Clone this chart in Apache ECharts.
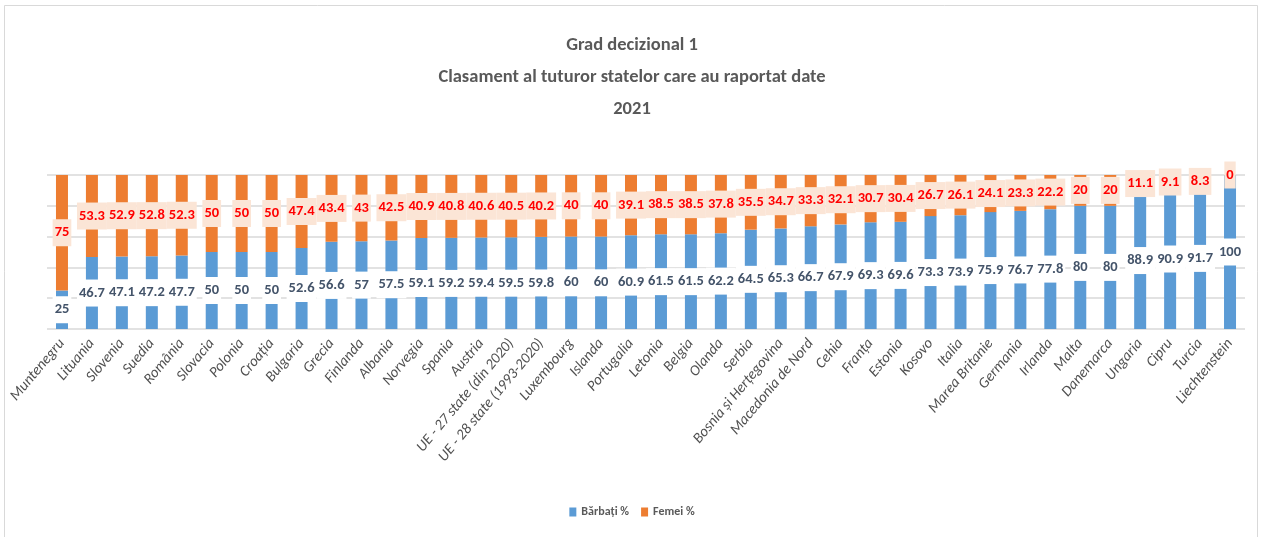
<!DOCTYPE html>
<html>
<head>
<meta charset="utf-8">
<script src="https://cdn.jsdelivr.net/npm/echarts@6/dist/echarts.min.js"></script>
<style>
  html, body { margin: 0; padding: 0; background: #fff; }
  #chart { width: 1264px; height: 537px; }
</style>
</head>
<body>
<div id="chart"></div>
<script>
const countries = [
  "Muntenegru", "Lituania", "Slovenia", "Suedia", "România", "Slovacia",
  "Polonia", "Croația", "Bulgaria", "Grecia", "Finlanda", "Albania",
  "Norvegia", "Spania", "Austria", "UE - 27 state (din 2020)",
  "UE - 28 state (1993-2020)", "Luxembourg", "Islanda", "Portugalia",
  "Letonia", "Belgia", "Olanda", "Serbia", "Bosnia și Herțegovina",
  "Macedonia de Nord", "Cehia", "Franța", "Estonia", "Kosovo", "Italia",
  "Marea Britanie", "Germania", "Irlanda", "Malta", "Danemarca", "Ungaria",
  "Cipru", "Turcia", "Liechtenstein",
];

const barbati = [
  25, 46.7, 47.1, 47.2, 47.7, 50, 50, 50, 52.6, 56.6, 57, 57.5, 59.1, 59.2,
  59.4, 59.5, 59.8, 60, 60, 60.9, 61.5, 61.5, 62.2, 64.5, 65.3, 66.7, 67.9,
  69.3, 69.6, 73.3, 73.9, 75.9, 76.7, 77.8, 80, 80, 88.9, 90.9, 91.7, 100,
];

const femei = [
  75, 53.3, 52.9, 52.8, 52.3, 50, 50, 50, 47.4, 43.4, 43, 42.5, 40.9, 40.8,
  40.6, 40.5, 40.2, 40, 40, 39.1, 38.5, 38.5, 37.8, 35.5, 34.7, 33.3, 32.1,
  30.7, 30.4, 26.7, 26.1, 24.1, 23.3, 22.2, 20, 20, 11.1, 9.1, 8.3, 0,
];

const font = 'Carlito, Lato, sans-serif';

var chartDom = document.getElementById("chart");
var myChart = echarts.init(chartDom);
var option;

option = {
  backgroundColor: "#fff",
  textStyle: { fontFamily: font },
  title: {
    text: "Grad decizional 1\nClasament al tuturor statelor care au raportat date\n2021",
    left: "center",
    top: 24,
    textStyle: {
      fontFamily: font,
      fontSize: 18.5,
      fontWeight: "bold",
      color: "#595959",
      lineHeight: 32,
    },
  },
  graphic: [
    {
      type: "rect",
      shape: { x: 4.5, y: 5.5, width: 1253, height: 540 },
      style: { fill: null, stroke: "#d9d9d9", lineWidth: 1 },
      silent: true,
    },
  ],
  legend: {
    data: ["Bărbați %", "Femei %"],
    bottom: 14,
    left: "center",
    itemWidth: 7,
    itemHeight: 9,
    itemGap: 12,
    icon: "rect",
    textStyle: { fontFamily: font, fontSize: 12, color: "#595959", fontWeight: "bold" },
  },
  grid: {
    left: 47,
    right: 19,
    top: 175,
    height: 154,
  },
  xAxis: {
    type: "category",
    data: countries,
    axisLine: { show: false },
    axisTick: { show: false },
    axisLabel: {
      interval: 0,
      rotate: 50,
      margin: 12,
      fontFamily: font,
      fontSize: 15,
      fontStyle: "italic",
      color: "#505050",
    },
  },
  yAxis: {
    type: "value",
    min: 0,
    max: 100,
    interval: 20,
    axisLabel: { show: false },
    axisLine: { show: false },
    axisTick: { show: false },
    splitLine: { lineStyle: { color: "#d9d9d9", width: 1.5 } },
  },
  series: [
    {
      name: "Bărbați %",
      type: "bar",
      stack: "total",
      barWidth: 12,
      color: "#5b9bd5",
      data: barbati,
      label: {
        show: true,
        position: "inside",
        overflow: "none",
        fontFamily: font,
        fontSize: 14.5,
        fontWeight: "bold",
        color: "#44546a",
        backgroundColor: "#fff",
        padding: [6, 2],
      },
    },
    {
      name: "Femei %",
      type: "bar",
      stack: "total",
      barWidth: 12,
      color: "#ed7d31",
      data: femei,
      label: {
        show: true,
        position: "inside",
        overflow: "none",
        fontFamily: font,
        fontSize: 14.5,
        fontWeight: "bold",
        color: "#ff0000",
        backgroundColor: "#fbe5d6",
        padding: [6, 2],
      },
    },
  ],
};

option && myChart.setOption(option);
</script>
</body>
</html>
